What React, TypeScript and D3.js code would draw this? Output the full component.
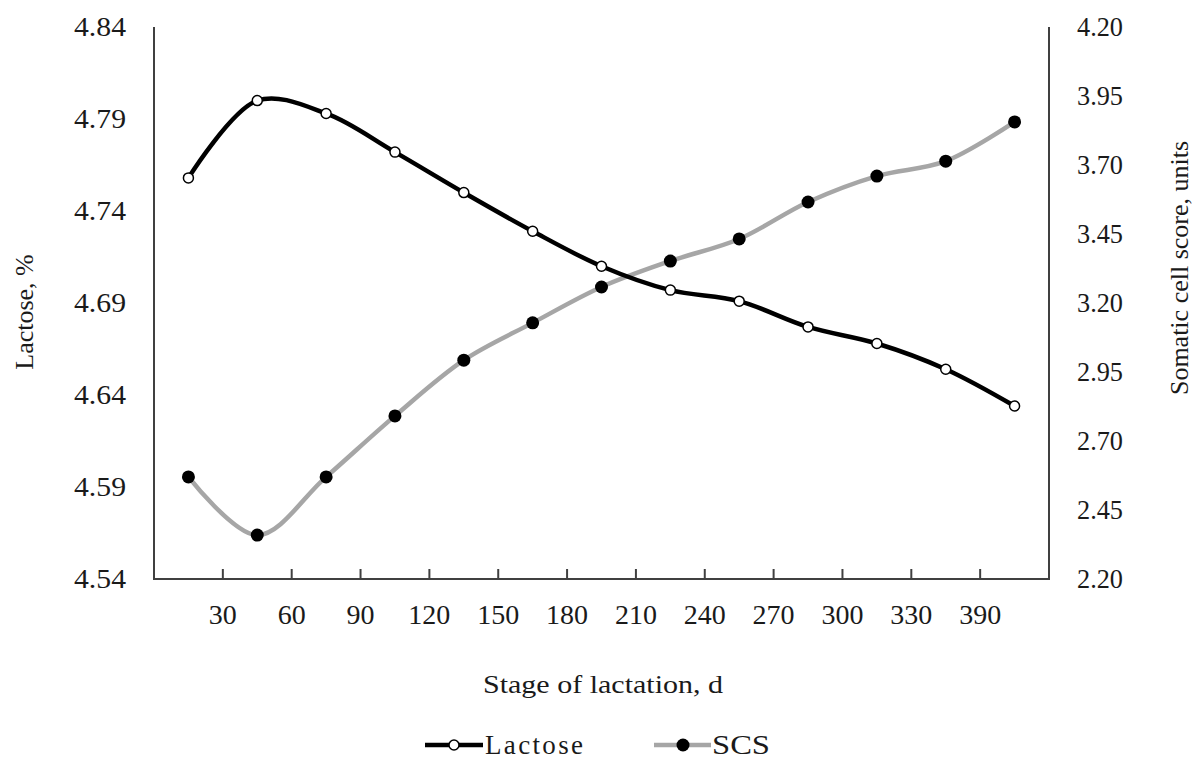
import React from 'react'
import * as d3 from 'd3'

// x tick labels sit on the boundaries between the 13 measurement groups
const tickLabels = ['30', '60', '90', '120', '150', '180', '210', '240', '270', '300', '330', '390']
const lactose = [4.758, 4.8, 4.793, 4.772, 4.75, 4.729, 4.71, 4.697, 4.691, 4.677, 4.668, 4.654, 4.634]
const scs = [2.57, 2.359, 2.57, 2.791, 2.993, 3.128, 3.258, 3.352, 3.432, 3.566, 3.66, 3.714, 3.856]
const leftTicks = [4.54, 4.59, 4.64, 4.69, 4.74, 4.79, 4.84]
const rightTicks = [2.2, 2.45, 2.7, 2.95, 3.2, 3.45, 3.7, 3.95, 4.2]

const W = 1202
const H = 764
const font = "'Liberation Serif', 'Times New Roman', Times, serif"
const ink = '#1a1a1a'

export default function App() {
  const left = 154, right = 1049, top = 27, bottom = 579

  const x = d3.scaleBand<number>()
    .domain(d3.range(lactose.length))
    .range([left, right])
    .padding(0)
  const cx = (i: number) => x(i)! + x.bandwidth() / 2

  const yL = d3.scaleLinear().domain([4.54, 4.84]).range([bottom, top])
  const yR = d3.scaleLinear().domain([2.2, 4.2]).range([bottom, top])

  const lineL = d3.line<number>()
    .x((d, i) => cx(i))
    .y(d => yL(d))
    .curve(d3.curveCatmullRom.alpha(0.5))
  const lineR = d3.line<number>()
    .x((d, i) => cx(i))
    .y(d => yR(d))
    .curve(d3.curveCatmullRom.alpha(0.5))

  return (
    <svg width={W} height={H}
      style={{ position: 'absolute', left: 0, top: 0, background: '#fff', fontFamily: font }}>
      {/* axes */}
      <line x1={left} x2={left} y1={top} y2={bottom} stroke="#404040" strokeWidth={2} />
      <line x1={right} x2={right} y1={top} y2={bottom} stroke="#404040" strokeWidth={2} />
      <line x1={left - 1} x2={right + 1} y1={bottom} y2={bottom} stroke="#404040" strokeWidth={2} />

      {tickLabels.map((t, i) => {
        const tx = x(i)! + x.bandwidth()
        return (
          <g key={t}>
            <line x1={tx} x2={tx} y1={bottom} y2={bottom - 10} stroke="#404040" strokeWidth={2} />
            <text x={tx} y={624} textAnchor="middle" fontSize={27} fill={ink}
              textLength={t.length * 14} lengthAdjust="spacingAndGlyphs">{t}</text>
          </g>
        )
      })}

      {leftTicks.map(t => (
        <text key={t} x={126} y={yL(t) + 9} textAnchor="end" fontSize={27} fill={ink}
          textLength={52} lengthAdjust="spacingAndGlyphs">{t.toFixed(2)}</text>
      ))}
      {rightTicks.map(t => (
        <text key={t} x={1077} y={yR(t) + 9} textAnchor="start" fontSize={27} fill={ink}
          textLength={46} lengthAdjust="spacingAndGlyphs">{t.toFixed(2)}</text>
      ))}

      <text transform="translate(33,312) rotate(-90)" textAnchor="middle" fontSize={26} fill={ink}>Lactose, %</text>
      <text transform="translate(1188,268) rotate(-90)" textAnchor="middle" fontSize={26} fill={ink}>Somatic cell score, units</text>
      <text x={603} y={693} textAnchor="middle" fontSize={26} fill={ink}
        textLength={240} lengthAdjust="spacingAndGlyphs">Stage of lactation, d</text>

      {/* series */}
      <path d={lineR(scs) ?? ''} fill="none" stroke="#a6a6a6" strokeWidth={4.5} />
      <path d={lineL(lactose) ?? ''} fill="none" stroke="#000" strokeWidth={4.5} />
      {scs.map((d, i) => (
        <circle key={'s' + i} cx={cx(i)} cy={yR(d)} r={6.5} fill="#000" />
      ))}
      {lactose.map((d, i) => (
        <circle key={'l' + i} cx={cx(i)} cy={yL(d)} r={5} fill="#fff" stroke="#000" strokeWidth={1.5} />
      ))}

      {/* legend */}
      <g transform="translate(425,745)">
        <line x1={0} x2={58} y1={0} y2={0} stroke="#000" strokeWidth={4.5} />
        <circle cx={29} cy={0} r={5} fill="#fff" stroke="#000" strokeWidth={1.5} />
        <text x={60} y={9} fontSize={27} fill={ink}
          textLength={98} lengthAdjust="spacing">Lactose</text>
      </g>
      <g transform="translate(654,745)">
        <line x1={0} x2={57} y1={0} y2={0} stroke="#a6a6a6" strokeWidth={4.5} />
        <circle cx={29} cy={0} r={6.5} fill="#000" />
        <text x={58} y={9} fontSize={27} fill={ink}
          textLength={58} lengthAdjust="spacingAndGlyphs">SCS</text>
      </g>
    </svg>
  )
}
